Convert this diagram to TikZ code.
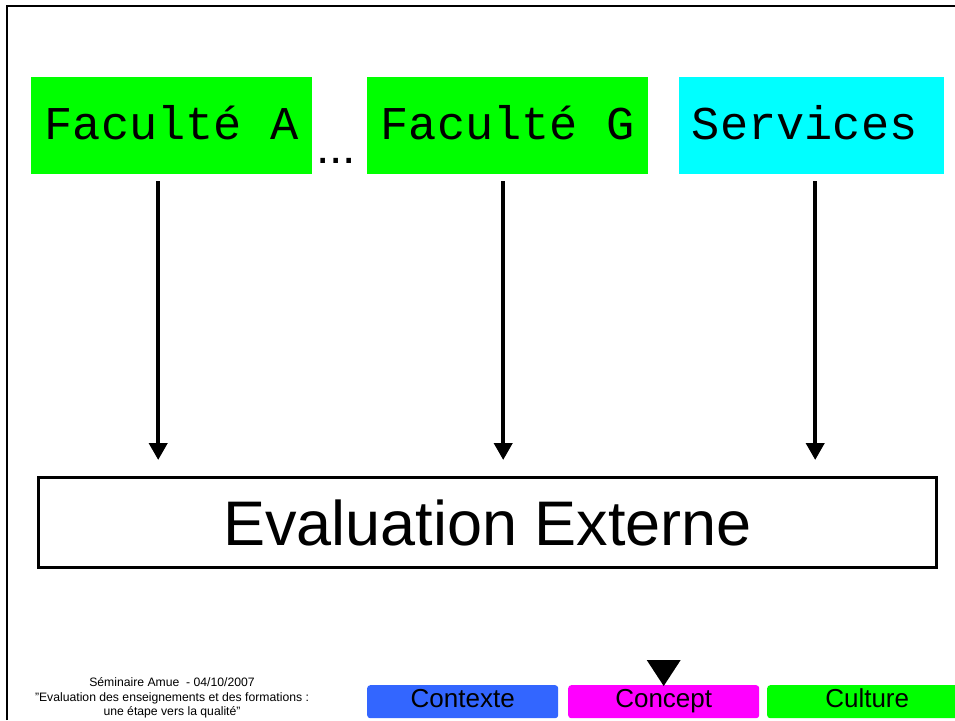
\documentclass[tikz,border=0pt]{standalone}
\usepackage{fontspec}
\setmainfont{Liberation Sans}
\newfontfamily\facfont{Liberation Mono}
\usepackage{tikz}
\usetikzlibrary{arrows.meta}
\usetikzlibrary{positioning}
\definecolor{boxgreen}{RGB}{0,255,0}
\definecolor{boxcyan}{RGB}{0,255,255}
\definecolor{tabblue}{RGB}{51,102,255}
\definecolor{tabmagenta}{RGB}{255,0,255}
\tikzset{
  unit/.style={anchor=north west, inner sep=0pt, minimum height=97pt,
    text height=27pt, text depth=0pt,
    font=\facfont\fontsize{47}{50}\selectfont},
  flow/.style={line width=4pt, -{Triangle[width=18pt,length=17pt]}},
  tab/.style={anchor=north west, inner sep=0pt, minimum width=191pt,
    minimum height=33pt, rounded corners=3pt,
    text height=12pt, text depth=0pt,
    font=\fontsize{26}{28}\selectfont}
}
\begin{document}
\begin{tikzpicture}[x=1pt,y=-1pt]
\useasboundingbox (0,0) rectangle (955,720);
\draw[line width=2pt] (7,720) -- (7,6) -- (955,6);
\node[unit, fill=boxgreen, minimum width=281pt] (facA) at (31,77) {Faculté A};
\node[unit, fill=boxgreen, minimum width=281pt] (facG) at (367,77) {Faculté G};
\node[unit, fill=boxcyan, minimum width=265pt] (serv) at (679,77) {Services\hspace*{14pt}};
\node[anchor=base, inner sep=0pt, font=\fontsize{48}{50}\selectfont] (dots) at (336,163) {...};
\node[draw, line width=3pt, minimum width=898pt, minimum height=90pt,
  inner sep=0pt, font=\fontsize{63}{66}\selectfont] (eval) at (487.5,522.5) {Evaluation Externe};
\coordinate (top) at ([yshift=16pt]eval.north);
\coordinate (sA) at ([xshift=-13.5pt,yshift=-7pt]facA.south);
\coordinate (sG) at ([xshift=-4.5pt,yshift=-7pt]facG.south);
\coordinate (sS) at ([xshift=3.5pt,yshift=-7pt]serv.south);
\draw[flow] (sA) -- (sA |- top);
\draw[flow] (sG) -- (sG |- top);
\draw[flow] (sS) -- (sS |- top);
\node[align=center, inner sep=0pt, font=\fontsize{12.2}{14.5}\selectfont] (foot) at (172,698)
  {Séminaire Amue\ \ - 04/10/2007\\"Evaluation des enseignements et des formations :\\une étape vers la qualité"};
\node[tab, fill=tabblue] (ctx) at (367,685) {Contexte};
\node[tab, fill=tabmagenta] (cpt) at (568,685) {Concept};
\node[tab, fill=boxgreen, minimum width=200pt] (cul) at (767,685) {Culture};
\fill ([yshift=-1pt]cpt.north) -- ++(-17,-26) -- ++(34,0) -- cycle;
\end{tikzpicture}
\end{document}
